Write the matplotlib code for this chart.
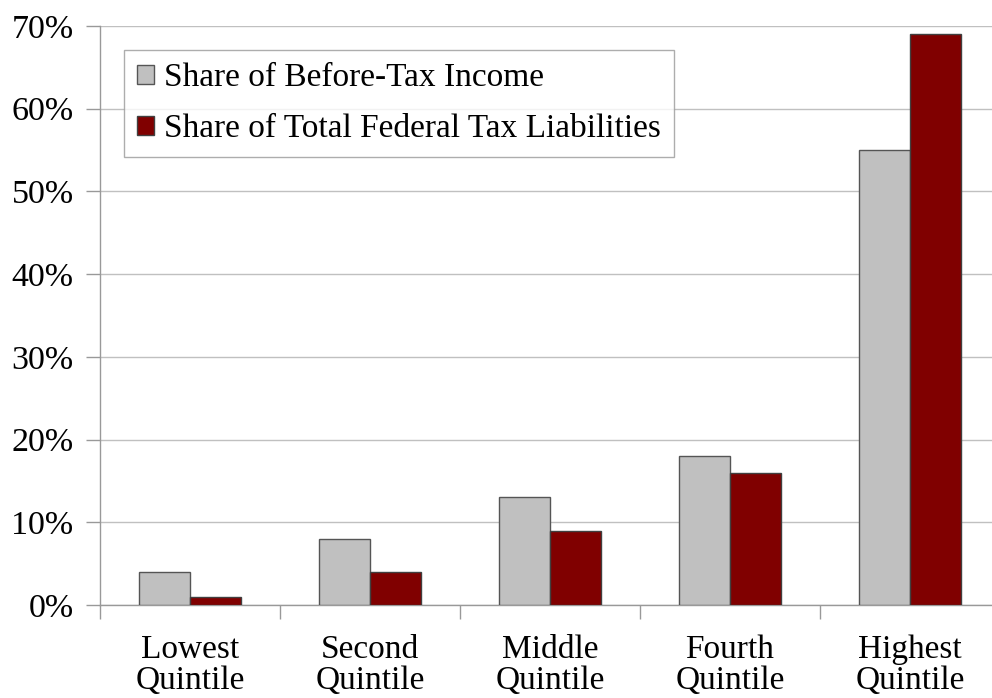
import numpy as np
import matplotlib.pyplot as plt

plt.rcParams['font.family'] = ['Liberation Serif', 'DejaVu Serif']

### Data
categories = ['Lowest\nQuintile', 'Second\nQuintile', 'Middle\nQuintile',
              'Fourth\nQuintile', 'Highest\nQuintile']
income_share = [4, 8, 13, 18, 55]
tax_share = [1, 4, 9, 16, 69]
series_labels = ['Share of Before-Tax Income', 'Share of Total Federal Tax Liabilities']
yticks = [0, 10, 20, 30, 40, 50, 60, 70]


### Make plot
W, H = 992, 698
fig = plt.figure(figsize=(W / 100, H / 100), dpi=100)
ax = fig.add_axes([100 / W, 1 - 605 / H, 900 / W, (605 - 26) / H])

x = np.arange(len(categories))
bw = 0.285
ax.bar(x - bw / 2, income_share, bw, color='#c0c0c0', edgecolor='#555555',
       linewidth=1, label=series_labels[0], zorder=3)
ax.bar(x + bw / 2, tax_share, bw, color='#800000', edgecolor='#404040',
       linewidth=1, label=series_labels[1], zorder=3)

ax.set_xlim(-0.5, len(categories) - 0.5)
ax.set_ylim(0, 70)
ax.set_yticks(yticks)
ax.set_yticklabels(['{}%'.format(v) for v in yticks], fontsize=24.5)
ax.yaxis.grid(True, color='#c0c0c0', linewidth=1, zorder=0)

# category labels centred, tick marks on boundaries
ax.set_xticks(x)
ax.set_xticklabels(categories, fontsize=24, linespacing=1.05)
ax.tick_params(axis='x', length=0, pad=21)
ax.set_xticks(np.arange(len(categories) + 1) - 0.5, minor=True)
ax.tick_params(axis='x', which='minor', length=10, color='#999999', width=1)
ax.tick_params(axis='y', length=10, color='#999999', width=1, pad=9)

for s in ['top', 'right']:
    ax.spines[s].set_visible(False)
for s in ['left', 'bottom']:
    ax.spines[s].set_color('#999999')
    ax.spines[s].set_linewidth(1)

leg = ax.legend(loc='upper left', bbox_to_anchor=(24 / 900, 1 - 24 / 579),
                fontsize=24, frameon=True, fancybox=False, edgecolor='#999999',
                handlelength=0.52, handleheight=0.52, handletextpad=0.3,
                labelspacing=0.62, borderpad=0.38, borderaxespad=0)
leg.get_frame().set_linewidth(1)

plt.savefig('out.png', dpi=100)
plt.close(fig)
